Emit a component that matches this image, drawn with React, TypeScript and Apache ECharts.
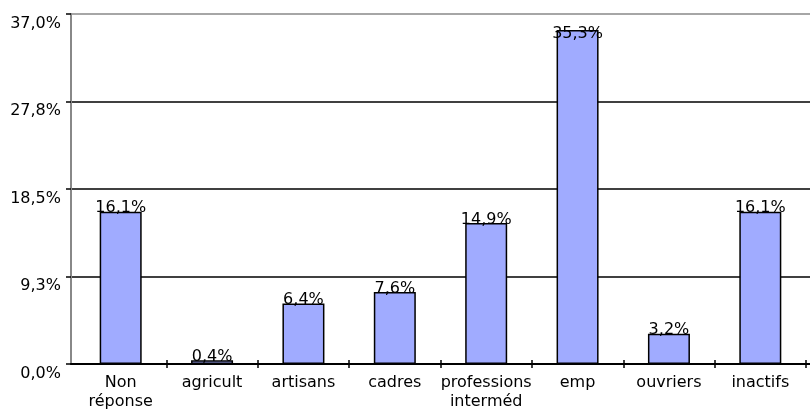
import React, { useEffect, useRef } from "react";
import * as echarts from "echarts";

const categories = [
  "Non\nréponse",
  "agricult",
  "artisans",
  "cadres",
  "professions\ninterméd",
  "emp",
  "ouvriers",
  "inactifs",
];
const shares = [16.1, 0.4, 6.4, 7.6, 14.9, 35.3, 3.2, 16.1];
const yMin = 0;
const yMax = 37;
const yStep = 9.25;

const FONT = "DejaVu Sans";
const fmt = (v: number) => v.toFixed(1).replace(".", ",") + "%";

export default function App() {
  const ref = useRef<HTMLDivElement>(null);

  useEffect(() => {
    if (!ref.current) return;
    const chart = echarts.init(ref.current, null, { renderer: "svg" });
    const top = 14;
    const bottom = 48;
    // the tallest bar's label sits lower so it stays clear of the frame
    const barData = shares.map((v) =>
      v > yMax - 4 ? { value: v, label: { distance: -10 } } : v
    );
    chart.setOption({
      animation: false,
      textStyle: { fontFamily: FONT },
      grid: [
        { left: 71, right: 0, top, bottom },
        { left: 75, right: 4, top, bottom },
      ],
      xAxis: [
        {
          gridIndex: 0,
          type: "category",
          data: [""],
          axisLine: { show: true, lineStyle: { color: "#000", width: 2 } },
          axisTick: { show: false },
          axisLabel: { show: false },
          splitLine: { show: false },
        },
        {
          gridIndex: 1,
          type: "category",
          data: categories,
          axisLine: { show: false },
          axisTick: {
            show: true,
            length: 4,
            interval: (i: number) => i !== 0,
            lineStyle: { color: "#000", width: 1.5 },
          },
          axisLabel: {
            color: "#000",
            fontFamily: FONT,
            fontSize: 16,
            lineHeight: 19,
            margin: 8,
            interval: 0,
          },
        },
        {
          gridIndex: 1,
          type: "category",
          position: "bottom",
          data: categories,
          axisLine: { show: false },
          axisTick: {
            show: true,
            inside: true,
            length: 4,
            interval: (i: number) => i !== 0,
            lineStyle: { color: "#000", width: 1.5 },
          },
          axisLabel: { show: false },
        },
      ],
      yAxis: [
        {
          gridIndex: 0,
          type: "value",
          min: yMin,
          max: yMax,
          interval: yStep,
          axisLine: { show: true, lineStyle: { color: "#888", width: 2 } },
          axisTick: { show: true, length: 5, lineStyle: { color: "#000", width: 1.5 } },
          axisLabel: {
            color: "#000",
            fontFamily: FONT,
            fontSize: 16,
            margin: 10,
            verticalAlign: "top",
            formatter: (v: number) => fmt(v),
          },
          splitLine: {
            show: true,
            lineStyle: { color: ["#000", "#000", "#000", "#000", "#888"], width: 1.5 },
          },
        },
        {
          gridIndex: 1,
          type: "value",
          min: yMin,
          max: yMax,
          interval: yStep,
          show: false,
          splitLine: { show: false },
        },
      ],
      series: [
        {
          type: "bar",
          xAxisIndex: 1,
          yAxisIndex: 1,
          data: barData,
          barWidth: 42,
          itemStyle: { color: "#a0abff", borderColor: "#000", borderWidth: 1.5 },
          label: {
            show: true,
            position: "top",
            distance: -3,
            color: "#000",
            fontFamily: FONT,
            fontSize: 16,
            formatter: (p: any) => fmt(p.value),
          },
        },
      ],
    });
    return () => chart.dispose();
  }, []);

  return (
    <div
      ref={ref}
      style={{ position: "fixed", left: 0, top: 0, width: 810, height: 412 }}
    />
  );
}
